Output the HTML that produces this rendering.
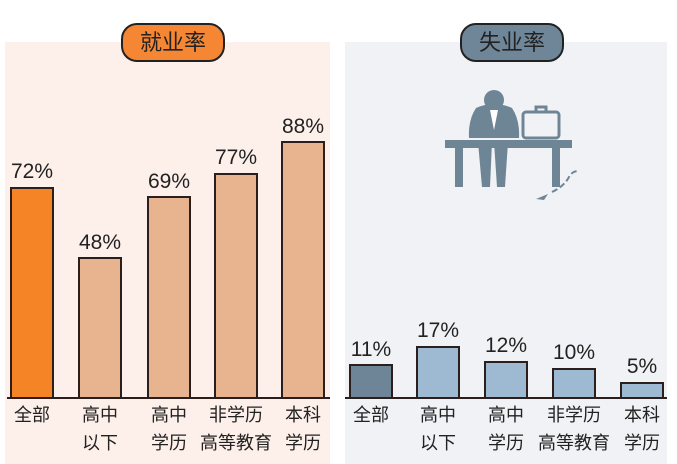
<!DOCTYPE html>
<html><head><meta charset="utf-8"><style>
body{margin:0;width:677px;height:464px;background:#fff;overflow:hidden;position:relative;font-family:"Liberation Sans","Noto Sans CJK SC",sans-serif}
.a{position:absolute}
.bar{position:absolute;box-sizing:border-box;border:2px solid #2a1f1c;border-bottom:none;width:44px}
.v{position:absolute;width:70px;text-align:center;font-size:21px;color:#222}
.l{position:absolute;width:80px;text-align:center;font-size:18px;line-height:28px;color:#222}
.pill{position:absolute;top:23px;width:104px;height:39px;border:2px solid #222;border-radius:16px;box-sizing:border-box;text-align:center;font-size:22px;line-height:35px;color:#222}
</style></head><body>
<div class="a" style="left:5px;top:42px;width:325px;height:422px;background:#fdf0ea"></div>
<div class="a" style="left:345px;top:42px;width:322px;height:422px;background:#f1f2f5"></div>
<div class="pill" style="left:121px;background:#f58633">就业率</div>
<div class="pill" style="left:460px;background:#6f8699">失业率</div>

<div class="bar" style="left:10px;top:187px;height:211px;background:#f58426"></div>
<div class="bar" style="left:78px;top:257px;height:141px;background:#e8b48f"></div>
<div class="bar" style="left:147px;top:196px;height:202px;background:#e8b48f"></div>
<div class="bar" style="left:214px;top:173px;height:225px;background:#e8b48f"></div>
<div class="bar" style="left:281px;top:141px;height:257px;background:#e8b48f"></div>
<div class="a" style="left:7px;top:397px;width:323px;height:2px;background:#2a1f1c"></div>

<div class="bar" style="left:349px;top:364px;height:34px;background:#6e8598"></div>
<div class="bar" style="left:416px;top:346px;height:52px;background:#9dbad2"></div>
<div class="bar" style="left:484px;top:361px;height:37px;background:#9dbad2"></div>
<div class="bar" style="left:552px;top:368px;height:30px;background:#9dbad2"></div>
<div class="bar" style="left:620px;top:382px;height:16px;background:#9dbad2"></div>
<div class="a" style="left:345px;top:397px;width:322px;height:2px;background:#2a1f1c"></div>

<div class="v" style="left:-3px;top:160px">72%</div>
<div class="v" style="left:65px;top:231px">48%</div>
<div class="v" style="left:134px;top:170px">69%</div>
<div class="v" style="left:201px;top:146px">77%</div>
<div class="v" style="left:268px;top:115px">88%</div>
<div class="v" style="left:336px;top:338px">11%</div>
<div class="v" style="left:403px;top:319px">17%</div>
<div class="v" style="left:471px;top:334px">12%</div>
<div class="v" style="left:539px;top:341px">10%</div>
<div class="v" style="left:607px;top:355px">5%</div>

<div class="l" style="left:-8px;top:401px">全部</div>
<div class="l" style="left:60px;top:401px">高中<br>以下</div>
<div class="l" style="left:129px;top:401px">高中<br>学历</div>
<div class="l" style="left:196px;top:401px">非学历<br>高等教育</div>
<div class="l" style="left:263px;top:401px">本科<br>学历</div>
<div class="l" style="left:331px;top:401px">全部</div>
<div class="l" style="left:398px;top:401px">高中<br>以下</div>
<div class="l" style="left:466px;top:401px">高中<br>学历</div>
<div class="l" style="left:534px;top:401px">非学历<br>高等教育</div>
<div class="l" style="left:602px;top:401px">本科<br>学历</div>

<svg class="a" style="left:0;top:0" width="677" height="464">
<g fill="#6e8596">
<rect x="445" y="140" width="127" height="8"/>
<rect x="455" y="148" width="8" height="39"/>
<rect x="552" y="148" width="8" height="39"/>
<circle cx="494" cy="100" r="10"/>
<path d="M476 108 Q494 100 512 108 Q520 120 519 138 L469 138 Q468 120 476 108Z"/>
<path d="M478 142 L492 142 L490 187 L482 187Z"/>
<path d="M494 142 L508 142 L505 187 L497 187Z"/>
<path d="M536 199 L548 194 L544 200Z"/>
</g>
<path d="M490 110 L494 130 L498 110" fill="#fff"/>
<rect x="523" y="112" width="36" height="26" rx="3" fill="none" stroke="#6e8596" stroke-width="3"/>
<path d="M536 112 v-5 h10 v5" fill="none" stroke="#6e8596" stroke-width="3"/>
<path d="M552 192 Q565 186 570 175 Q575 170 578 172" fill="none" stroke="#6e8596" stroke-width="2" stroke-dasharray="6 3"/>
</svg>
</body></html>
